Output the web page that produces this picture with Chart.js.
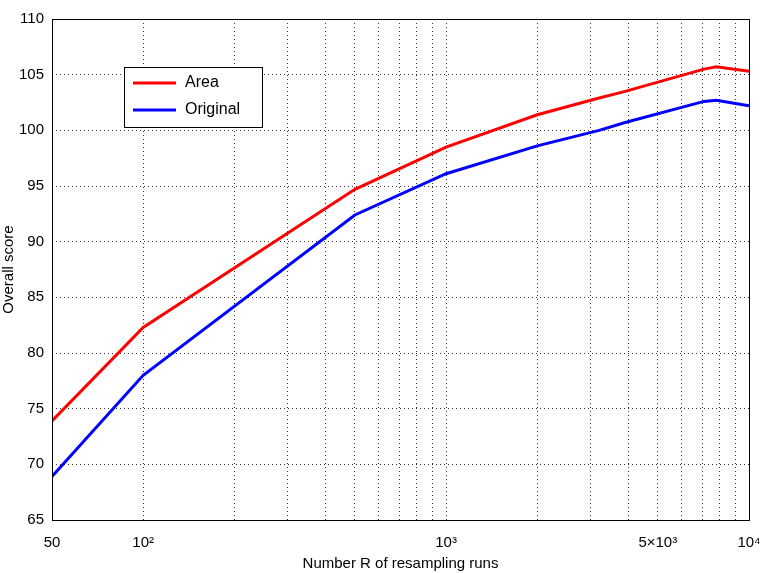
<!DOCTYPE html>
<html><head><meta charset="utf-8">
<script src="https://cdn.jsdelivr.net/npm/chart.js@4"></script>
<style>html,body{margin:0;background:#fff}#wrap{width:763px;height:573px}</style>
</head><body><div id="wrap"><canvas id="c"></canvas></div>
<script>
// Data
const runs = [50, 100, 500, 1000, 2000, 3200, 3900, 7100, 7800, 10000];
const areaScore = [73.9, 82.3, 94.7, 98.5, 101.4, 102.9, 103.5, 105.5, 105.7, 105.3];
const originalScore = [68.9, 78.0, 92.4, 96.1, 98.6, 100.0, 100.7, 102.6, 102.7, 102.2];
const xGrid = [50, 100, 200, 300, 400, 500, 600, 700, 800, 900, 1000, 2000, 3000, 4000, 5000, 6000, 7000, 8000, 9000, 10000];
const xLabels = { 50: "50", 100: "10²", 1000: "10³", 5000: "5×10³", 10000: "10⁴" };

const FONT = "'Liberation Sans', Arial, sans-serif";

const frame = {
    id: "frame",
    afterDraw: function (chart) {
        const a = chart.chartArea, ctx = chart.ctx;
        ctx.save();
        ctx.strokeStyle = "#000";
        ctx.lineWidth = 1;
        ctx.strokeRect(a.left + 0.5, a.top + 0.5, a.right - a.left, a.bottom - a.top);
        // legend box
        const bx = a.left + 72, by = a.top + 48, bw = 138, bh = 60;
        ctx.fillStyle = "#fff";
        ctx.fillRect(bx, by, bw, bh);
        ctx.strokeRect(bx + 0.5, by + 0.5, bw, bh);
        ctx.font = "16px " + FONT;
        ctx.textBaseline = "middle";
        [["Area", "#ff0000"], ["Original", "#0000ff"]].forEach(function (it, i) {
            const y = by + 16 + i * 27;
            ctx.strokeStyle = it[1];
            ctx.lineWidth = 3;
            ctx.beginPath();
            ctx.moveTo(bx + 9, y);
            ctx.lineTo(bx + 52, y);
            ctx.stroke();
            ctx.fillStyle = "#000";
            ctx.fillText(it[0], bx + 61, y);
        });
        ctx.restore();
    },
};

new Chart(document.getElementById("c"), {
    type: "line",
    data: {
        datasets: [
            { label: "Area", data: runs.map(function (r, i) { return { x: r, y: areaScore[i] }; }),
              borderColor: "#ff0000", borderWidth: 3, pointRadius: 0, tension: 0, fill: false },
            { label: "Original", data: runs.map(function (r, i) { return { x: r, y: originalScore[i] }; }),
              borderColor: "#0000ff", borderWidth: 3, pointRadius: 0, tension: 0, fill: false },
        ],
    },
    options: {
        animation: false,
        responsive: true,
        maintainAspectRatio: false,
        layout: { padding: { top: 19, right: 14, left: 0, bottom: 0 } },
        plugins: { legend: { display: false }, tooltip: { enabled: false } },
        scales: {
            x: {
                type: "logarithmic",
                min: 50,
                max: 10000,
                afterBuildTicks: function (s) { s.ticks = xGrid.map(function (v) { return { value: v }; }); },
                afterFit: function (s) { s.height = 53; s.paddingLeft = 0; s.paddingRight = 0; },
                grid: { color: "#333", lineWidth: 1, drawTicks: false },
                border: { display: false, dash: [1, 3] },
                ticks: {
                    autoSkip: false, maxRotation: 0, padding: 14, color: "#000",
                    font: { family: FONT, size: 15 },
                    callback: function (v) { return xLabels[v] || ""; },
                },
                title: { display: true, text: "Number R of resampling runs", color: "#000",
                         font: { family: FONT, size: 15 }, padding: { top: 0, bottom: 0 } },
            },
            y: {
                min: 65,
                max: 110,
                afterFit: function (s) { s.width = 52; },
                grid: { color: "#333", lineWidth: 1, drawTicks: false },
                border: { display: false, dash: [1, 3] },
                ticks: { stepSize: 5, padding: 8, color: "#000", font: { family: FONT, size: 15 } },
                title: { display: true, text: "Overall score", color: "#000",
                         font: { family: FONT, size: 15 }, padding: { top: 0, bottom: 4 } },
            },
        },
    },
    plugins: [frame],
});
</script></body></html>
